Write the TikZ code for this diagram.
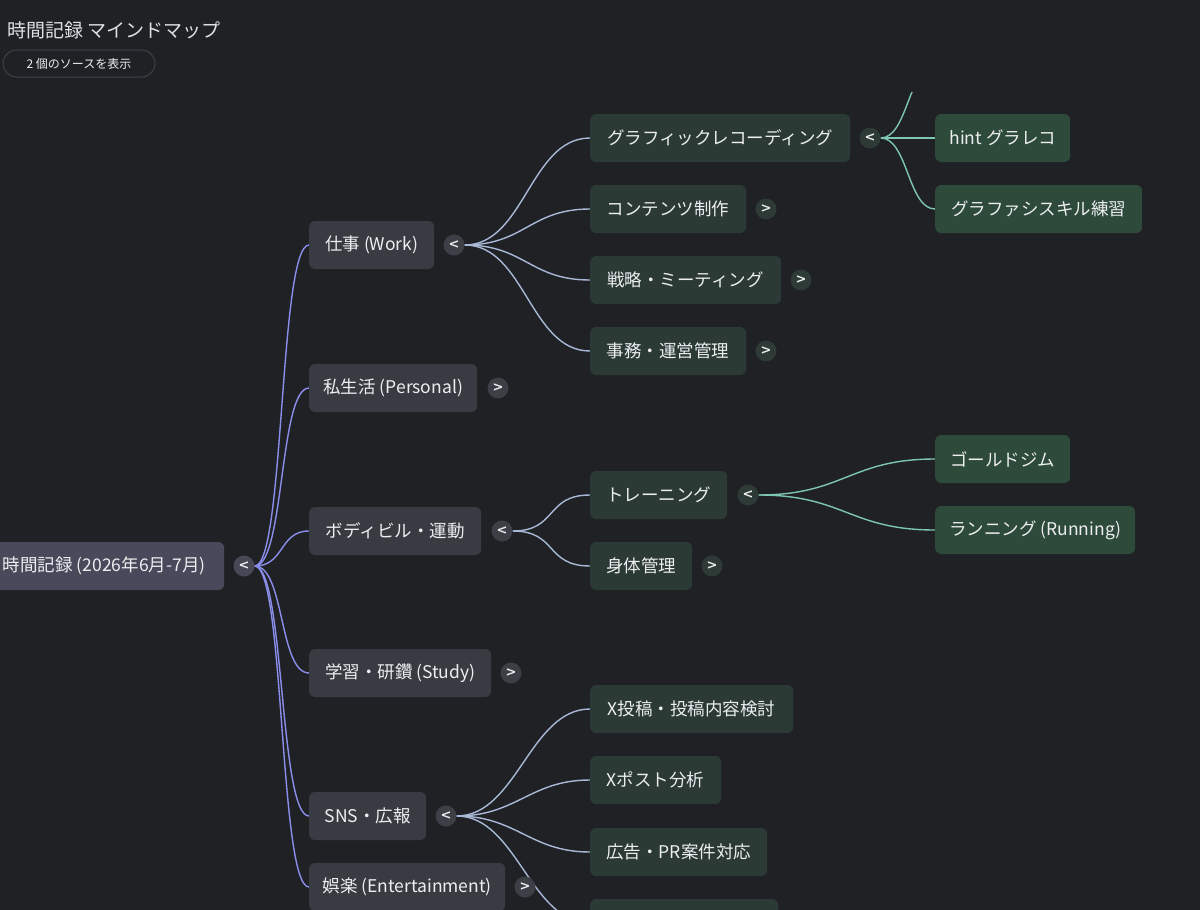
\documentclass[tikz,border=0pt]{standalone}
\usepackage{fontspec}
\setmainfont{Noto Sans CJK JP}
\newfontfamily\arrowfont{DejaVu Sans}
\usetikzlibrary{backgrounds}
\definecolor{bg}{RGB}{31,33,37}
\definecolor{txt}{RGB}{236,238,240}
\definecolor{titletxt}{RGB}{222,224,228}
\definecolor{rootfill}{RGB}{72,73,90}
\definecolor{lonefill}{RGB}{56,60,66}
\definecolor{ltwofill}{RGB}{44,58,54}
\definecolor{lthreefill}{RGB}{46,74,58}
\definecolor{roottg}{RGB}{70,72,86}
\definecolor{lonetg}{RGB}{60,63,70}
\definecolor{ltwotg}{RGB}{45,58,54}
\definecolor{czero}{RGB}{140,142,236}
\definecolor{cone}{RGB}{168,184,214}
\definecolor{ctwo}{RGB}{125,198,176}
\definecolor{btnborder}{RGB}{62,65,70}
\tikzset{
  box/.style={rounded corners=6pt, minimum height=48pt, inner sep=0pt, text=txt,
    font=\fontsize{17.5}{20}\selectfont, anchor=west},
  rootbox/.style={box, fill=rootfill},
  lone/.style={box, fill=lonefill},
  ltwo/.style={box, fill=ltwofill},
  lthree/.style={box, fill=lthreefill},
  tg/.style={circle, minimum size=21pt, inner sep=0pt, text=txt,
    font=\arrowfont\bfseries\fontsize{13}{13}\selectfont},
  tgroot/.style={tg, fill=roottg},
  tgone/.style={tg, fill=lonetg},
  tgtwo/.style={tg, fill=ltwotg},
  linkzero/.style={draw=czero, line width=1.4pt},
  linkone/.style={draw=cone, line width=1.4pt},
  linktwo/.style={draw=ctwo, line width=1.4pt}
}
\begin{document}
\begin{tikzpicture}[x=1pt,y=-1pt]
\useasboundingbox (0,0) rectangle (1200,910);
\clip (0,0) rectangle (1200,910);

% title and button
\node[anchor=west, text=titletxt, font=\fontsize{19}{21}\selectfont, inner sep=0pt] (title) at (7,30) {時間記録 マインドマップ};
\node[draw=btnborder, line width=1pt, rounded corners=13.5pt, minimum width=152pt, minimum height=27pt,
  inner sep=0pt, text=txt, font=\fontsize{12}{14}\selectfont] (btn) at (79,63.5) {2 個のソースを表示};

% root
\node[rootbox, minimum width=240pt] (root) at (-16,566) {時間記録 (2026年6月-7月)};
\node[tgroot] (rt) at (244,566) {<};

% level 1
\node[lone, minimum width=125pt] (work) at (309,245) {仕事 (Work)};
\node[tgone] (workt) at (454,245) {<};
\node[lone, minimum width=168pt] (pers) at (309,388) {私生活 (Personal)};
\node[tgone] (perst) at (498,388) {>};
\node[lone, minimum width=172pt] (body) at (309,531) {ボディビル・運動};
\node[tgone] (bodyt) at (502,531) {<};
\node[lone, minimum width=182pt] (study) at (309,673) {学習・研鑽 (Study)};
\node[tgone] (studyt) at (511,673) {>};
\node[lone, minimum width=117pt] (sns) at (309,816) {SNS・広報};
\node[tgone] (snst) at (446,816) {<};
\node[lone, minimum width=196pt] (ent) at (309,887) {娯楽 (Entertainment)};
\node[tgone] (entt) at (525,887) {>};

% level 2
\node[ltwo, minimum width=260pt] (grec) at (590,138) {グラフィックレコーディング};
\node[tgtwo] (grect) at (870,138) {<};
\node[ltwo, minimum width=156pt] (cont) at (590,209) {コンテンツ制作};
\node[tgtwo] (contt) at (766,209) {>};
\node[ltwo, minimum width=191pt] (strat) at (590,280) {戦略・ミーティング};
\node[tgtwo] (stratt) at (801,280) {>};
\node[ltwo, minimum width=156pt] (admin) at (590,351) {事務・運営管理};
\node[tgtwo] (admint) at (766,351) {>};
\node[ltwo, minimum width=137pt] (train) at (590,495) {トレーニング};
\node[tgtwo] (traint) at (748,495) {<};
\node[ltwo, minimum width=102pt] (phys) at (590,566) {身体管理};
\node[tgtwo] (physt) at (712,566) {>};
\node[ltwo, minimum width=203pt] (xpost) at (590,709) {X投稿・投稿内容検討};
\node[ltwo, minimum width=131pt] (xana) at (590,780) {Xポスト分析};
\node[ltwo, minimum width=177pt] (ad) at (590,852) {広告・PR案件対応};
\node[ltwo, minimum width=188pt] (snsfour) at (590,923) {};

% level 3
\node[lthree, minimum width=135pt] (hint) at (935,138) {hint グラレコ};
\node[lthree, minimum width=207pt] (gfs) at (935,209) {グラファシスキル練習};
\node[lthree, minimum width=135pt] (gold) at (935,459) {ゴールドジム};
\node[lthree, minimum width=200pt] (run) at (935,530) {ランニング (Running)};
\coordinate (grecup) at (935,67);

\begin{scope}[on background layer]
  \fill[bg] (0,0) rectangle (1200,910);
  % root links
  \foreach \t in {work,pers,body,study,sns,ent}
    \draw[linkzero] (rt.east) .. controls +(30,0) and +(-30,0) .. (\t.west);
  % level 1 links
  \foreach \t in {grec,cont,strat,admin}
    \draw[linkone] (workt.east) .. controls +(60,0) and +(-60,0) .. (\t.west);
  \foreach \t in {train,phys}
    \draw[linkone] (bodyt.east) .. controls +(45,0) and +(-45,0) .. (\t.west);
  \foreach \t in {xpost,xana,ad,snsfour}
    \draw[linkone] (snst.east) .. controls +(60,0) and +(-60,0) .. (\t.west);
  % level 2 links
  \foreach \t in {hint,gfs}
    \draw[linktwo] (grect.east) .. controls +(27,0) and +(-27,0) .. (\t.west);
  \begin{scope}
    \clip (850,92) rectangle (960,140);
    \draw[linktwo] (grect.east) .. controls +(27,0) and +(-27,0) .. (grecup);
  \end{scope}
  \foreach \t in {gold,run}
    \draw[linktwo] (traint.east) .. controls +(85,0) and +(-85,0) .. (\t.west);
\end{scope}
\end{tikzpicture}
\end{document}
